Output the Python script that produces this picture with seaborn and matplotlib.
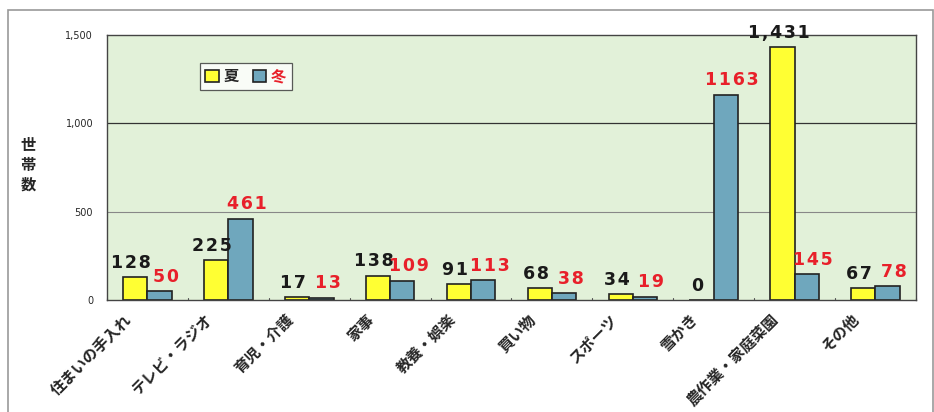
import pandas as pd
import seaborn as sns
import matplotlib.pyplot as plt
from matplotlib.patches import Rectangle
from matplotlib.transforms import ScaledTranslation

categories = ["住まいの手入れ", "テレビ・ラジオ", "育児・介護", "家事", "教養・娯楽",
              "買い物", "スポーツ", "雪かき", "農作業・家庭菜園", "その他"]
summer = [128, 225, 17, 138, 91, 68, 34, 0, 1431, 67]
winter = [50, 461, 13, 109, 113, 38, 19, 1163, 145, 78]
seasons = ["夏", "冬"]
yticks = [0, 500, 1000, 1500]
ytick_labels = ["0", "500", "1,000", "1,500"]

df = pd.DataFrame({
    "cat": categories * 2,
    "season": [seasons[0]] * len(categories) + [seasons[1]] * len(categories),
    "value": summer + winter,
})

sns.set_theme(style="white")
plt.rcParams['font.family'] = ['Noto Sans CJK JP', 'DejaVu Sans']

fig = plt.figure(figsize=(9.34, 4.12), dpi=100)
ax = fig.add_axes([0.1146, 0.272, 0.866, 0.643])

palette = {"夏": "#FFFF33", "冬": "#6FA7BD"}
sns.barplot(data=df, x="cat", y="value", hue="season", order=categories,
            hue_order=seasons, palette=palette, width=0.6, saturation=1,
            edgecolor="#222222", linewidth=1.2, ax=ax)

ax.set_facecolor("#E2F1D9")
ax.set_ylim(0, 1500)
ax.set_xlim(-0.5, len(categories) - 0.5)
ax.set_yticks(yticks)
ax.set_yticklabels(ytick_labels, fontsize=7, family="DejaVu Sans")
ax.axhline(1000, color="#333333", lw=0.9, zorder=0)
ax.axhline(500, color="#888888", lw=0.8, zorder=0)
ax.set_xlabel("")
ax.set_ylabel("")
ax.set_xticks(range(len(categories)))
ax.set_xticklabels(categories, rotation=45, ha="right", rotation_mode="anchor",
                   fontsize=11, fontweight="bold")
ax.tick_params(axis="x", length=0, pad=8)
ax.tick_params(axis="y", length=0, pad=10)
shift = ScaledTranslation(-24 / 100, 0, fig.dpi_scale_trans)
for lbl in ax.get_xticklabels():
    lbl.set_transform(lbl.get_transform() + shift)
# small tick marks between categories
for b in range(len(categories) + 1):
    ax.plot([b - 0.5, b - 0.5], [0, 12], color="#555555", lw=0.8, clip_on=False)
for s in ax.spines.values():
    s.set_color("#444444")
    s.set_linewidth(1.0)

# value labels, spaced out like the original (summer with comma, winter without)
fmts = ["{:,}", "{}"]
for container, color, dx, fmt in zip(ax.containers, ["#1a1a1a", "#E8202A"],
                                     [-0.05, 0.08], fmts):
    for bar in container:
        h = bar.get_height()
        txt = "\u200a".join(fmt.format(int(h)))
        ax.text(bar.get_x() + bar.get_width() / 2 + dx, h + 30, txt,
                ha="center", va="bottom", fontsize=12.5, fontweight="bold",
                color=color, family="DejaVu Sans")

leg = ax.legend(loc="upper left", bbox_to_anchor=(0.115, 0.895), ncol=2,
                frameon=True, fancybox=False, fontsize=10, handlelength=0.9,
                handleheight=0.9, columnspacing=0.9, handletextpad=0.3,
                borderpad=0.35, borderaxespad=0, edgecolor="#333333",
                prop={"weight": "bold"})
leg.get_frame().set_linewidth(0.9)
leg.get_texts()[1].set_color("#E8202A")

fig.text(0.03, 0.60, "世\n帯\n数", ha="center", va="center", fontsize=11,
         fontweight="bold", linespacing=1.3)

fig.patches.append(Rectangle((0.009, -0.01), 0.99, 0.985, transform=fig.transFigure,
                             fill=False, edgecolor="#999999", lw=1.2))

fig.savefig("out.png", dpi=100)
